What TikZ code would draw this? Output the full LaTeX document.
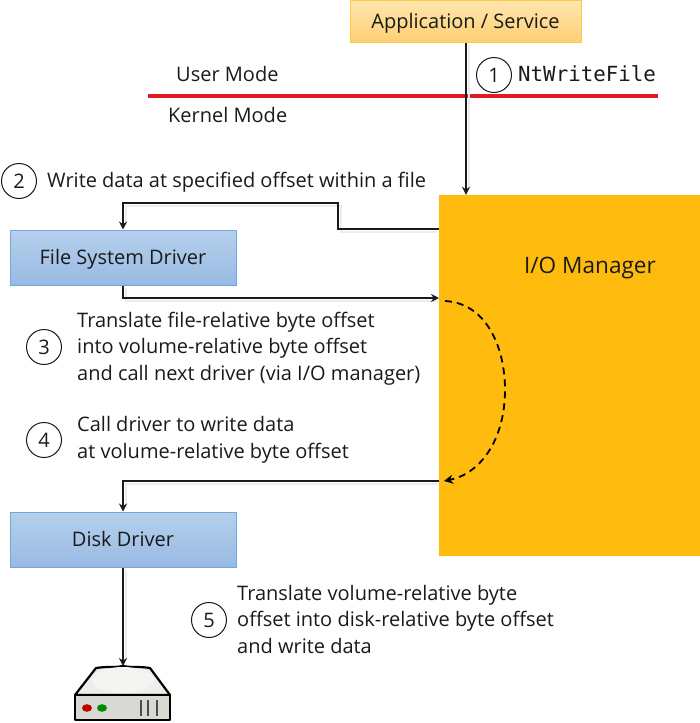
\documentclass[tikz,border=0pt]{standalone}
\usepackage{fontspec}
\setmainfont{Open Sans}
\newfontfamily\monof{DejaVu Sans Mono}
\usetikzlibrary{arrows.meta}
\definecolor{ink}{HTML}{1A1A1A}
\definecolor{mgrc}{HTML}{FFBC0F}
\definecolor{appA}{HTML}{FFE6AE}
\definecolor{appB}{HTML}{FFCF73}
\definecolor{appE}{HTML}{FFC94D}
\definecolor{blueA}{HTML}{B6D0EC}
\definecolor{blueB}{HTML}{98BAE3}
\definecolor{blueE}{HTML}{6FA8DC}
\definecolor{redl}{HTML}{E31B23}
\definecolor{drvtop}{HTML}{EDEDEB}
\definecolor{drvtopin}{HTML}{F4F4F2}
\definecolor{drvlow}{HTML}{D8D9D3}
\tikzset{
  x=1pt,y=-1pt,
  txt/.style={font=\fontsize{20}{26.5}\selectfont,text=ink,inner sep=0pt,align=left},
  num/.style={circle,draw=ink,line width=1pt,minimum size=35pt,inner sep=0pt,font=\fontsize{20}{22}\selectfont,text=ink},
  conn/.style={draw=ink,line width=1.4pt,-{Stealth[length=8pt,width=8pt]}},
  drop/.style={draw=black!7,line width=1.5pt},
  appbox/.style={draw=appE,line width=1pt,top color=appA,bottom color=appB,inner sep=0pt,text height=16pt,text depth=3pt,font=\fontsize{20}{24}\selectfont,text=ink},
  drvbox/.style={draw=blueE,line width=1pt,top color=blueA,bottom color=blueB,inner sep=0pt,text height=16pt,text depth=3pt,font=\fontsize{20}{24}\selectfont,text=ink},
}
\begin{document}
\begin{tikzpicture}
\useasboundingbox (0,0) rectangle (700,723);
% boxes
\node[appbox,minimum width=231pt,minimum height=42pt] (app) at (465.5,21.5) {Application / Service};
\node[draw=none,fill=mgrc,inner sep=0pt,minimum width=261pt,minimum height=361pt] (mgr) at (569.5,375.5) {};
\node[drvbox,minimum width=226pt,minimum height=55pt] (fsd) at (123,257.5) {File System Driver};
\node[drvbox,minimum width=226pt,minimum height=55pt] (dd) at (123,539.5) {Disk Driver};
\node[txt,font=\fontsize{22.6}{26}\selectfont,anchor=center] (mgrl) at (590,268) {I/O Manager};
% mode line
\coordinate (rl) at (148,96); \coordinate (rr) at (658,96);
\draw[redl,line width=3.4pt] (rl) -- (rr);
% anchors on the manager's edge
\coordinate (m1) at (439,229);
\coordinate (m2) at (439,298);
\coordinate (m3) at (439,481);
\coordinate (a1) at (445,301);
\coordinate (a2) at (444,481);
\coordinate (drv) at (123,666);
% soft shadows
\draw[drop] (469,44) -- (469,190);
\draw[drop] (126,288) |- (437,301);
\draw[drop] (437,232) -| (341,206) -- (126,206) -- (126,226);
\draw[drop] (437,484) -- (126,484) -- (126,508);
\draw[drop] (126,569) -- (126,660);
% connectors
\draw[conn] (app.south -| 466,0) -- (mgr.north -| 466,0);
\draw[conn] (m1) -- (338,229) -- (338,203) -- (123,203) -- (fsd.north);
\draw[conn] (fsd.south) -- (123,298) -- (m2);
\draw[conn] (m3) -- (123,481) -- (dd.north);
\draw[conn] (dd.south) -- (drv);
\draw[draw=black,line width=1.8pt,dash pattern=on 7pt off 5pt,-{Stealth[length=9pt,width=9pt]}]
  (a1) .. controls (485,303) and (505,345) .. (505,390) .. controls (505,440) and (480,474) .. (a2);
% labels
\node[txt,anchor=west] (um) at (176,74) {User Mode};
\node[txt,anchor=west] (km) at (168,115) {Kernel Mode};
\node[num] (n1) at (494,75) {1};
\node[anchor=west,inner sep=0pt,font=\monof\fontsize{20.8}{24}\selectfont,text=ink] (nt) at (518,74) {NtWriteFile};
\node[num] (n2) at (19,181) {2};
\node[txt,anchor=west] (t2) at (47,182) {Write data at specified offset within a file};
\node[num] (n3) at (44,347) {3};
\node[txt,anchor=west] (t3) at (77,348.5) {Translate file-relative byte offset\\into volume-relative byte offset\\and call next driver (via I/O manager)};
\node[num] (n4) at (44,440) {4};
\node[txt,anchor=west] (t4) at (77,440) {Call driver to write data\\at volume-relative byte offset};
\node[num] (n5) at (209,620) {5};
\node[txt,anchor=west] (t5) at (237,619) {Translate volume-relative byte\\offset into disk-relative byte offset\\and write data};
% disk drive
\draw[black,line width=2.2pt,line join=round,fill=drvtop]
  (96,668) .. controls (110,666) and (112,668) .. (123,666) .. controls (134,668) and (136,666) .. (150,668) -- (170,695) -- (75,695) -- cycle;
\fill[drvtopin] (123,680) ellipse (31pt and 13pt);
\draw[black,line width=2.2pt,line join=round,fill=drvlow] (75,695) -- (170,695) -- (170,720) -- (75,720) -- cycle;
\fill[red!75!black] (87,708) ellipse (5pt and 3.8pt);
\fill[green!55!black] (102,708) ellipse (5pt and 3.8pt);
\foreach \bx in {141,148,157} \draw[black!70,line width=2pt] (\bx,700) -- (\bx,716);
\end{tikzpicture}
\end{document}
